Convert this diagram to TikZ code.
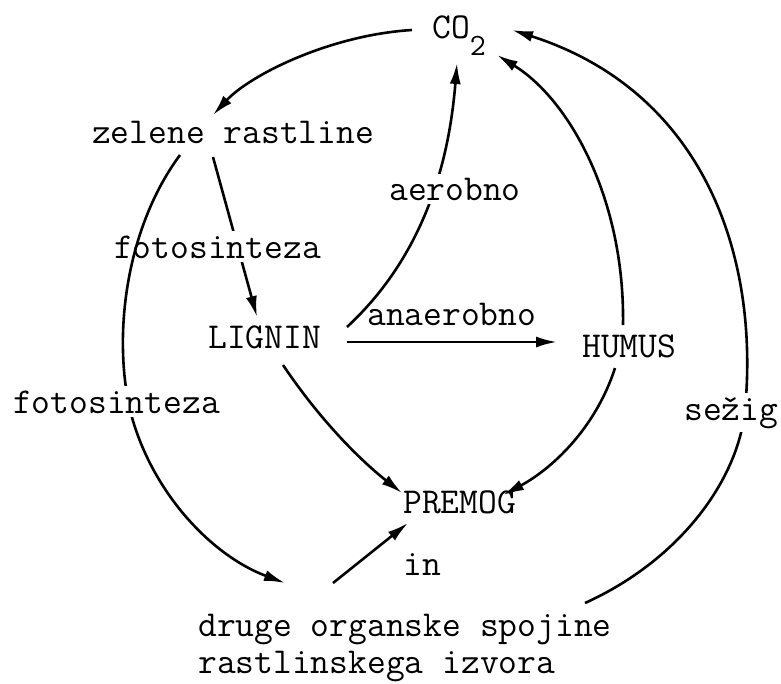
\documentclass[tikz,border=0pt]{standalone}
\usepackage{fontspec}
\usetikzlibrary{arrows.meta}
\begin{document}
\begin{tikzpicture}[x=1pt,y=-1pt,
  lbl/.style={font=\ttfamily\fontsize{36.5}{40}\selectfont, inner xsep=0pt, inner ysep=0pt, anchor=base west},
  cut/.style={lbl, fill=white, inner xsep=1pt, inner ysep=4pt},
  conn/.style={line width=2.6pt, -{Latex[length=21pt,width=11pt]}}]
\useasboundingbox (0,0) rectangle (781,683);
\fill[white] (0,0) rectangle (781,683);

\node[lbl] (co2) at (432,38) {CO\raisebox{-17pt}{\fontsize{31}{31}\selectfont 2}};
\node[lbl] (zel) at (92,143) {zelene rastline};
\node[lbl] (lig) at (208,348) {LIGNIN};
\node[lbl] (hum) at (582,357) {HUMUS};
\node[lbl] (pre) at (403,513) {PREMOG};
\node[lbl] (inn) at (403,575) {in};
\node[lbl] (dru) at (198,636) {\vtop{\baselineskip=37pt\lineskiplimit=-100pt\lineskip=0pt\hbox{druge organske spojine}\hbox{rastlinskega izvora}}};
\node[lbl] (ana) at (367,325) {anaerobno};

\draw[conn] ([shift={(-20,-8)}]co2.base west) .. controls (330,35) and (250,75) .. ([shift={(121,-28)}]zel.base west);
\draw[conn] ([shift={(121,14)}]zel.base west) -- ([shift={(49,-31)}]lig.base west);
\node[cut] (fot1) at (113,258) {fotosinteza};
\draw[conn] ([shift={(88,12)}]zel.base west) .. controls (128,225) and (112,330) .. (130,410) .. controls (150,490) and (210,555) .. ([shift={(87,-53)}]dru.base west);
\node[cut] (fot2) at (12,413) {fotosinteza};
\draw[conn] ([shift={(139,-21)}]lig.base west) .. controls (430,250) and (450,150) .. ([shift={(25,25)}]co2.base west);
\node[cut] (aer) at (388,200) {aerobno};
\draw[conn] ([shift={(139,-6)}]lig.base west) -- ([shift={(-25,-15)}]hum.base west);
\draw[conn] ([shift={(41,-32)}]hum.base west) .. controls (625,200) and (570,100) .. ([shift={(65,17)}]co2.base west);
\draw[conn] ([shift={(33,11)}]hum.base west) .. controls (595,430) and (550,470) .. ([shift={(100,-18)}]pre.base west);
\draw[conn] ([shift={(75,17)}]lig.base west) .. controls (320,420) and (360,460) .. ([shift={(-1,-20)}]pre.base west);
\draw[conn] ([shift={(135,-53)}]dru.base west) -- ([shift={(5,10)}]pre.base west);
\draw[conn] ([shift={(387,-33)}]dru.base west) .. controls (680,560) and (738,480) .. (745,410) .. controls (760,250) and (700,90) .. ([shift={(80,-8)}]co2.base west);
\node[cut] (sez) at (683,420) {sežig};
\end{tikzpicture}
\end{document}
